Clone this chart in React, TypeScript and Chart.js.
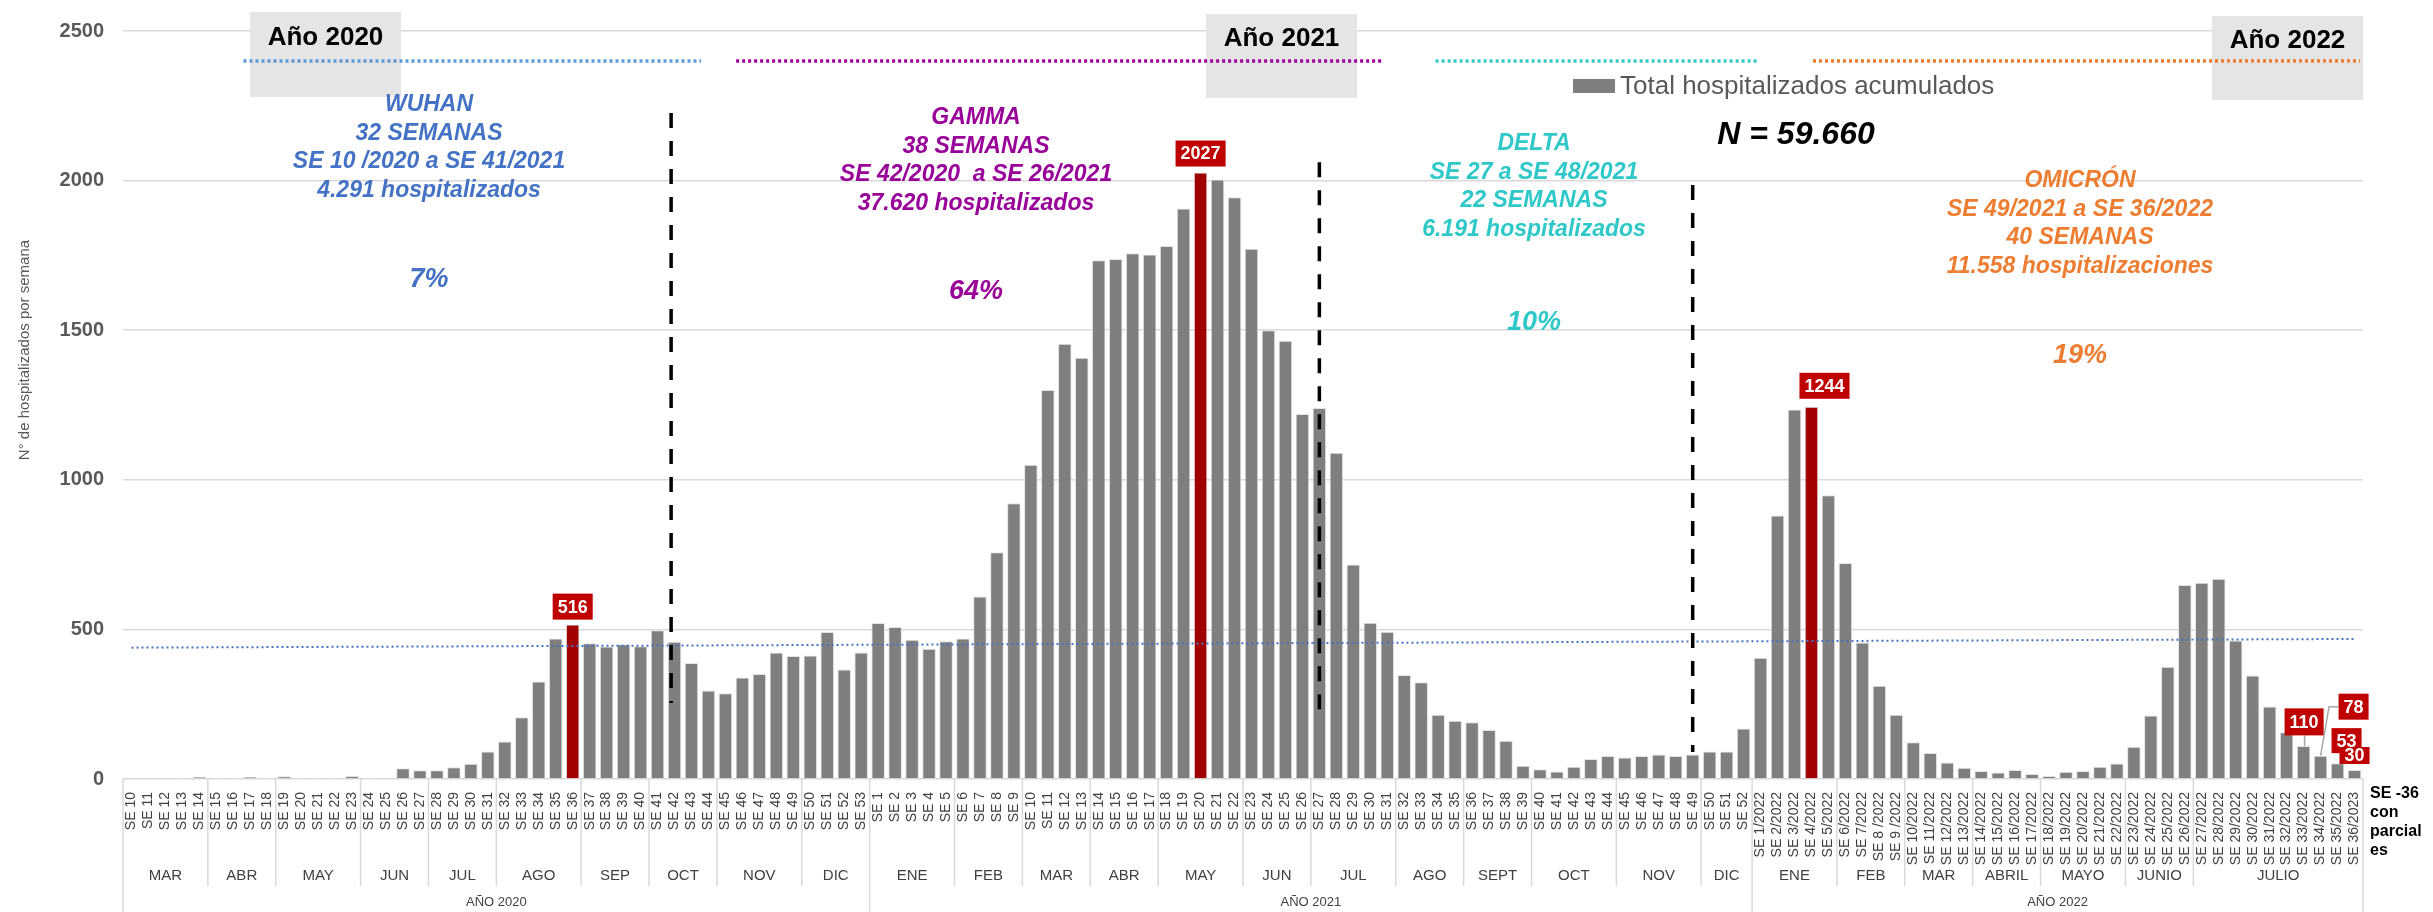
import React, { useEffect, useRef } from "react";
import { Chart, registerables } from "chart.js";

Chart.register(...registerables);

const FONT = "'Liberation Sans', Arial, Helvetica, sans-serif";
const NARROW = "'Liberation Sans Narrow', 'Arial Narrow', 'Liberation Sans', Arial, sans-serif";

// ---------- DATA ----------
const weeks2020 = [
  "SE 10", "SE 11", "SE 12", "SE 13", "SE 14", "SE 15", "SE 16", "SE 17", "SE 18", "SE 19",
  "SE 20", "SE 21", "SE 22", "SE 23", "SE 24", "SE 25", "SE 26", "SE 27", "SE 28", "SE 29",
  "SE 30", "SE 31", "SE 32", "SE 33", "SE 34", "SE 35", "SE 36", "SE 37", "SE 38", "SE 39",
  "SE 40", "SE 41", "SE 42", "SE 43", "SE 44", "SE 45", "SE 46", "SE 47", "SE 48", "SE 49",
  "SE 50", "SE 51", "SE 52", "SE 53",
];
const weeks2021 = [
  "SE 1", "SE 2", "SE 3", "SE 4", "SE 5", "SE 6", "SE 7", "SE 8", "SE 9", "SE 10",
  "SE 11", "SE 12", "SE 13", "SE 14", "SE 15", "SE 16", "SE 17", "SE 18", "SE 19", "SE 20",
  "SE 21", "SE 22", "SE 23", "SE 24", "SE 25", "SE 26", "SE 27", "SE 28", "SE 29", "SE 30",
  "SE 31", "SE 32", "SE 33", "SE 34", "SE 35", "SE 36", "SE 37", "SE 38", "SE 39", "SE 40",
  "SE 41", "SE 42", "SE 43", "SE 44", "SE 45", "SE 46", "SE 47", "SE 48", "SE 49", "SE 50",
  "SE 51", "SE 52",
];
const weeks2022 = [
  "SE 1/2022", "SE 2/2022", "SE 3/2022", "SE 4/2022", "SE 5/2022", "SE 6/2022", "SE 7/2022",
  "SE 8 /2022", "SE 9 /2022", "SE 10/2022", "SE 11/2022", "SE 12/2022", "SE 13/2022",
  "SE 14/2022", "SE 15/2022", "SE 16/2022", "SE 17/2022", "SE 18/2022", "SE 19/2022",
  "SE 20/2022", "SE 21/2022", "SE 22/2022", "SE 23/2022", "SE 24/2022", "SE 25/2022",
  "SE 26/2022", "SE 27/2022", "SE 28/2022", "SE 29/2022", "SE 30/2022", "SE 31/2022",
  "SE 32/2022", "SE 33/2022", "SE 34/2022", "SE 35/2022", "SE 36/2023",
];

const hosp2020 = [
  0, 0, 0, 3, 7, 3, 3, 7, 3, 9,
  3, 3, 3, 10, 3, 0, 36, 29, 29, 39,
  51, 92, 125, 206, 326, 470, 516, 454, 443, 450,
  444, 497, 459, 388, 296, 287, 339, 351, 423, 411,
  413, 491, 366, 423,
];
const hosp2021 = [
  521, 508, 465, 435, 460, 470, 610, 758, 922, 1050,
  1300, 1455, 1408, 1734, 1738, 1757, 1753, 1781, 1907, 2027,
  2004, 1944, 1772, 1500, 1465, 1220, 1240, 1090, 717, 522,
  492, 348, 323, 215, 195, 190, 164, 128, 44, 33,
  25, 41, 67, 77, 72, 77, 82, 77, 82, 92,
  92, 169,
];
const hosp2022 = [
  405, 881, 1235, 1244, 948, 722, 456, 312, 215, 123,
  87, 55, 38, 27, 22, 30, 17, 10, 24, 27,
  41, 52, 108, 212, 375, 648, 656, 669, 463, 346,
  242, 156, 110, 78, 53, 30,
];

const months2020 = ["MAR", "ABR", "MAY", "JUN", "JUL", "AGO", "SEP", "OCT", "NOV", "DIC"];
const monthWeeks2020 = [5, 4, 5, 4, 4, 5, 4, 4, 5, 4];
const months2021 = ["ENE", "FEB", "MAR", "ABR", "MAY", "JUN", "JUL", "AGO", "SEPT", "OCT", "NOV", "DIC"];
const monthWeeks2021 = [5, 4, 4, 4, 5, 4, 5, 4, 4, 5, 5, 3];
const months2022 = ["ENE", "FEB", "MAR", "ABRIL", "MAYO", "JUNIO", "JULIO"];
const monthWeeks2022 = [5, 4, 4, 4, 5, 4, 10];
const yearLabels = ["AÑO 2020", "AÑO 2021", "AÑO 2022"];

const yTickValues = [0, 500, 1000, 1500, 2000, 2500];
const trendEnds = [439, 468];
const seriesName = "Total hospitalizados acumulados";
const peakWeek2020 = "SE 36";
const peakWeek2021 = "SE 20";
const peakWeek2022 = "SE 4/2022";

// ---------- DERIVED ----------
const labels = [...weeks2020, ...weeks2021, ...weeks2022];
const values = [...hosp2020, ...hosp2021, ...hosp2022];
const N = labels.length;
const peakIdx = [
  weeks2020.indexOf(peakWeek2020),
  weeks2020.length + weeks2021.indexOf(peakWeek2021),
  weeks2020.length + weeks2021.length + weeks2022.indexOf(peakWeek2022),
];
const trendData = labels.map((_, i) => (i === 0 ? trendEnds[0] : i === N - 1 ? trendEnds[1] : null));

const GRAY = "#7F7F7F";
const DARKRED = "#A00000";
const LABELRED = "#C00000";

// ---------- LAYOUT / STYLE ----------
const variantBlocks = [
  { color: "#4472C4", cx: 429, lines: ["WUHAN", "32 SEMANAS", "SE 10 /2020 a SE 41/2021", "4.291 hospitalizados"], y0: 111, pct: "7%", pctY: 287 },
  { color: "#990099", cx: 976, lines: ["GAMMA", "38 SEMANAS", "SE 42/2020  a SE 26/2021", "37.620 hospitalizados"], y0: 124, pct: "64%", pctY: 299 },
  { color: "#2EC8C8", cx: 1534, lines: ["DELTA", "SE 27 a SE 48/2021", "22 SEMANAS", "6.191 hospitalizados"], y0: 150, pct: "10%", pctY: 330 },
  { color: "#ED7D31", cx: 2080, lines: ["OMICRÓN", "SE 49/2021 a SE 36/2022", "40 SEMANAS", "11.558 hospitalizaciones"], y0: 187, pct: "19%", pctY: 363 },
];
const periodLines = [
  { from: 6.6, to: 33.57, color: "#5B9BD5" },
  { from: 35.63, to: 73.8, color: "#A000A0" },
  { from: 76.85, to: 95.94, color: "#33CCCC" },
  { from: 99.09, to: 131.33, color: "#ED7D31" },
];
const dividers = [
  { x: 31.8, top: 2226, bottom: 254 },
  { x: 70, top: 2061, bottom: 201 },
  { x: 92, top: 1985, bottom: 90 },
];
const yearBoxes = [
  { x0: 250, x1: 401, y0: 12, y1: 97, text: "Año 2020", ty: 45 },
  { x0: 1206, x1: 1357, y0: 14, y1: 98, text: "Año 2021", ty: 46 },
  { x0: 2212, x1: 2363, y0: 16, y1: 100, text: "Año 2022", ty: 48 },
];

function redBox(ctx: CanvasRenderingContext2D, text: string, cx: number, bottom: number, h: number) {
  ctx.font = `bold 18px ${FONT}`;
  const w = ctx.measureText(text).width + 10;
  ctx.fillStyle = LABELRED;
  ctx.fillRect(cx - w / 2, bottom - h, w, h);
  ctx.fillStyle = "#FFFFFF";
  ctx.textAlign = "center";
  ctx.textBaseline = "middle";
  ctx.fillText(text, cx, bottom - h / 2 + 1);
}

const annotationsPlugin = {
  id: "annotations",
  afterDatasetsDraw(chart: any) {
    const { ctx, chartArea } = chart;
    const xs = chart.scales.x;
    const ys = chart.scales.y;
    const meta = chart.getDatasetMeta(1);
    ctx.save();

    // year boxes
    for (const b of yearBoxes) {
      ctx.fillStyle = "#E5E5E5";
      ctx.fillRect(b.x0, b.y0, b.x1 - b.x0, b.y1 - b.y0);
      ctx.fillStyle = "#000000";
      ctx.font = `bold 26px ${FONT}`;
      ctx.textAlign = "center";
      ctx.textBaseline = "alphabetic";
      ctx.fillText(b.text, (b.x0 + b.x1) / 2, b.ty);
    }

    // period dotted lines
    ctx.lineWidth = 3.5;
    ctx.setLineDash([3, 3]);
    for (const p of periodLines) {
      ctx.strokeStyle = p.color;
      ctx.beginPath();
      const yy = ys.getPixelForValue(2400);
      ctx.moveTo(xs.getPixelForValue(p.from), yy);
      ctx.lineTo(xs.getPixelForValue(p.to), yy);
      ctx.stroke();
    }

    // dashed dividers
    ctx.strokeStyle = "#000000";
    ctx.lineWidth = 3.5;
    ctx.setLineDash([15, 13]);
    for (const d of dividers) {
      const xx = xs.getPixelForValue(d.x);
      ctx.beginPath();
      ctx.moveTo(xx, ys.getPixelForValue(d.top));
      ctx.lineTo(xx, ys.getPixelForValue(d.bottom));
      ctx.stroke();
    }
    ctx.setLineDash([]);

    // variant texts
    ctx.textAlign = "center";
    ctx.textBaseline = "alphabetic";
    for (const v of variantBlocks) {
      ctx.fillStyle = v.color;
      ctx.font = `italic bold 23px ${FONT}`;
      v.lines.forEach((l, i) => ctx.fillText(l, v.cx, v.y0 + i * 28.7));
      ctx.font = `italic bold 27px ${FONT}`;
      ctx.fillText(v.pct, v.cx, v.pctY);
    }

    // N
    ctx.fillStyle = "#000000";
    ctx.font = `italic bold 32px ${FONT}`;
    ctx.fillText("N = 59.660", 1796, 144);

    // legend
    ctx.fillStyle = GRAY;
    ctx.fillRect(1573, 79, 42, 14);
    ctx.fillStyle = "#595959";
    ctx.font = `26px ${FONT}`;
    ctx.textAlign = "left";
    ctx.fillText(seriesName, 1620, 94);

    // y axis title
    ctx.save();
    ctx.translate(25, 350);
    ctx.rotate(-Math.PI / 2);
    ctx.font = `15px ${FONT}`;
    ctx.fillStyle = "#595959";
    ctx.textAlign = "center";
    ctx.textBaseline = "middle";
    ctx.fillText("N° de hospitalizados por semana", 0, 0);
    ctx.restore();

    // peak labels
    const peakOffsets = [
      { dx: 0, gap: 5 },
      { dx: 0, gap: 6 },
      { dx: 13, gap: 8 },
    ];
    peakIdx.forEach((idx, k) => {
      const el = meta.data[idx];
      redBox(ctx, String(values[idx]), el.x + peakOffsets[k].dx, el.y - peakOffsets[k].gap, 26);
    });

    // trailing labels with leaders
    const tail = [
      { idx: N - 3, dx: 33, gap: 36, h: 26 },
      { idx: N - 4, dx: 0.5, gap: 10.7, h: 27 },
      { idx: N - 2, dx: 9, gap: 10, h: 25 },
      { idx: N - 1, dx: 0, gap: 6, h: 17 },
    ];
    ctx.strokeStyle = "#A6A6A6";
    ctx.lineWidth = 1.5;
    const e110 = meta.data[N - 4];
    ctx.beginPath();
    ctx.moveTo(e110.x + 1, e110.y);
    ctx.lineTo(e110.x + 1, e110.y - 10.7);
    ctx.stroke();
    const e78 = meta.data[N - 3];
    ctx.beginPath();
    ctx.moveTo(e78.x, e78.y);
    ctx.lineTo(e78.x + 8.5, e78.y - 49);
    ctx.lineTo(e78.x + 17.5, e78.y - 49);
    ctx.stroke();
    for (const t of tail) {
      const el = meta.data[t.idx];
      redBox(ctx, String(values[t.idx]), el.x + t.dx, el.y - t.gap, t.h);
    }

    // x-axis month/year rows
    const bx = (b: number) => xs.getPixelForValue(b - 0.5);
    const axisY = chartArea.bottom;
    const groups = [
      { months: months2020, counts: monthWeeks2020 },
      { months: months2021, counts: monthWeeks2021 },
      { months: months2022, counts: monthWeeks2022 },
    ];
    let start = 0;
    ctx.strokeStyle = "#D9D9D9";
    ctx.lineWidth = 1.5;
    ctx.fillStyle = "#404040";
    ctx.textAlign = "center";
    ctx.textBaseline = "middle";
    groups.forEach((g, gi) => {
      const yearStart = start;
      ctx.beginPath();
      ctx.moveTo(bx(start), axisY);
      ctx.lineTo(bx(start), 912);
      ctx.stroke();
      g.months.forEach((m, mi) => {
        const s = start;
        const e = start + g.counts[mi];
        if (mi > 0) {
          ctx.beginPath();
          ctx.moveTo(bx(s), axisY);
          ctx.lineTo(bx(s), 886);
          ctx.stroke();
        }
        ctx.font = `15px ${NARROW}`;
        ctx.fillText(m, (bx(s) + bx(e)) / 2, 876);
        start = e;
      });
      ctx.font = `13px ${FONT}`;
      ctx.fillText(yearLabels[gi], (bx(yearStart) + bx(start)) / 2, 902);
    });
    ctx.beginPath();
    ctx.moveTo(bx(start), axisY);
    ctx.lineTo(bx(start), 912);
    ctx.stroke();

    // partial note
    ctx.fillStyle = "#000000";
    ctx.font = `bold 16px ${FONT}`;
    ctx.textAlign = "left";
    ctx.textBaseline = "alphabetic";
    ["SE -36", "con", "parcial", "es"].forEach((t, i) => ctx.fillText(t, 2370, 798 + i * 19));

    ctx.restore();
  },
};

export default function App() {
  const ref = useRef<HTMLCanvasElement | null>(null);
  useEffect(() => {
    if (!ref.current) return;
    const chart = new Chart(ref.current, {
      data: {
        labels,
        datasets: [
          {
            type: "line" as const,
            label: "Lineal",
            data: trendData,
            borderColor: "#4472C4",
            borderWidth: 2,
            borderDash: [2, 3],
            pointRadius: 0,
            spanGaps: true,
            order: 0,
          },
          {
            type: "bar" as const,
            label: seriesName,
            data: values,
            backgroundColor: values.map((_, i) => (peakIdx.includes(i) ? DARKRED : GRAY)),
            borderColor: "#E3E3E3",
            borderWidth: 1,
            barPercentage: 0.8,
            categoryPercentage: 1,
            order: 1,
          },
        ],
      },
      options: {
        responsive: false,
        devicePixelRatio: 1,
        animation: false,
        layout: { padding: { left: 0, right: 70, top: 22, bottom: 0 } },
        plugins: { legend: { display: false }, tooltip: { enabled: false } },
        scales: {
          x: {
            grid: { display: false },
            border: { display: false },
            ticks: {
              autoSkip: false,
              maxRotation: 90,
              minRotation: 90,
              padding: 5,
              color: "#404040",
              font: { size: 14, family: NARROW },
            },
            afterFit: (s: any) => {
              s.height = 133;
            },
          },
          y: {
            min: 0,
            max: 2500,
            afterBuildTicks: (s: any) => {
              s.ticks = yTickValues.map((v) => ({ value: v }));
            },
            grid: { color: "#D9D9D9", lineWidth: 1.5, drawTicks: false },
            border: { display: false },
            ticks: {
              padding: 19,
              color: "#595959",
              font: { size: 20, weight: "bold", family: FONT },
              callback: (v: any) => String(v),
            },
            afterFit: (s: any) => {
              s.width = 123;
            },
          },
        },
      },
      plugins: [annotationsPlugin],
    } as any);
    return () => chart.destroy();
  }, []);
  return (
    <div style={{ position: "fixed", left: 0, top: 0, width: 2433, height: 912, background: "#fff" }}>
      <canvas ref={ref} width={2433} height={912} style={{ display: "block" }} />
    </div>
  );
}
